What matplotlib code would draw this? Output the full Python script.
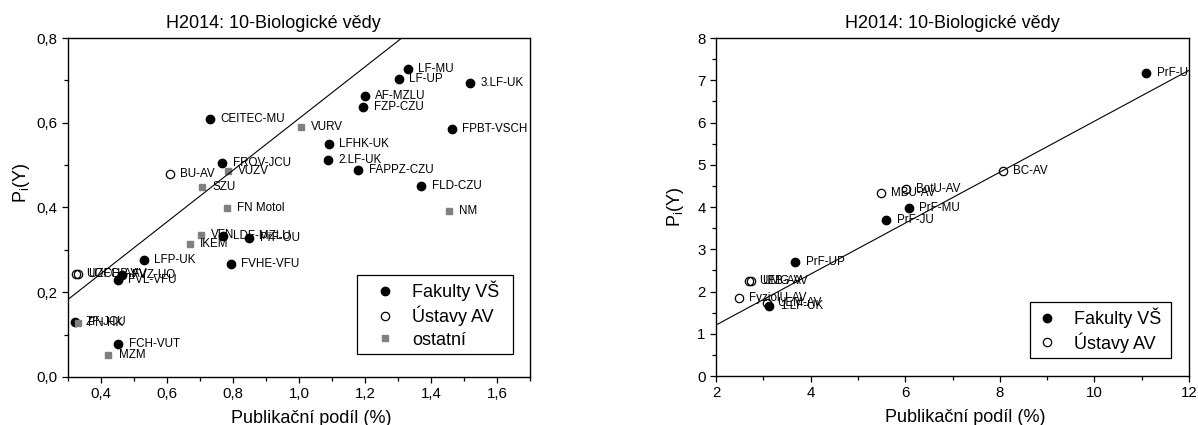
import numpy as np
import matplotlib
matplotlib.use('Agg')
import matplotlib.pyplot as plt
from matplotlib.ticker import MultipleLocator, FuncFormatter
from matplotlib.lines import Line2D

plt.rcParams['font.family'] = ['Liberation Sans', 'DejaVu Sans']
plt.rcParams['mathtext.default'] = 'regular'

titulek = 'H2014: 10-Biologické vědy'
osa_x = 'Publikační podíl (%)'
osa_y = 'P$_i$(Y)'

# levy graf - mensi pracoviste
l_fak_jmena = ['CEITEC-MU', 'FROV-JCU', 'LF-MU', 'LF-UP', '3.LF-UK', 'AF-MZLU', 'FZP-CZU',
               'FPBT-VSCH', 'LFHK-UK', '2.LF-UK', 'FAPPZ-CZU', 'FLD-CZU', 'LDF-MZLU', 'PřF-OU',
               'LFP-UK', 'FVHE-VFU', 'FVL-VFU', 'FVZ-UO', 'ZF-JCU', 'FCH-VUT']
l_fak_x = [0.729, 0.768, 1.330, 1.302, 1.519, 1.200, 1.195, 1.463, 1.090, 1.087, 1.180, 1.371,
           0.769, 0.849, 0.530, 0.793, 0.451, 0.463, 0.322, 0.452]
l_fak_y = [0.608, 0.504, 0.726, 0.703, 0.693, 0.664, 0.636, 0.586, 0.551, 0.512, 0.488, 0.451,
           0.333, 0.329, 0.276, 0.266, 0.230, 0.241, 0.130, 0.078]

l_av_jmena = ['BU-AV', 'UOCHB-AV', 'UZFG-AV']
l_av_x = [0.608, 0.324, 0.330]
l_av_y = [0.478, 0.244, 0.244]

l_ost_jmena = ['VURV', 'VUZV', 'SZU', 'FN Motol', 'NM', 'VFN', 'IKEM', 'FN HK', 'MZM']
l_ost_x = [1.005, 0.784, 0.705, 0.781, 1.454, 0.702, 0.669, 0.329, 0.422]
l_ost_y = [0.589, 0.485, 0.449, 0.399, 0.391, 0.336, 0.315, 0.127, 0.052]

l_smernice = 0.61

# pravy graf - velka pracoviste
p_fak_jmena = ['PrF-UK', 'PrF-MU', 'PrF-JU', 'PrF-UP', '1.LF-UK']
p_fak_x = [11.10, 6.07, 5.60, 3.68, 3.13]
p_fak_y = [7.16, 3.98, 3.69, 2.69, 1.66]

p_av_jmena = ['BC-AV', 'BotU-AV', 'MBU-AV', 'UEB-AV', 'UMG-AV', 'FyziolU-AV', 'UEM-AV']
p_av_x = [8.06, 6.01, 5.49, 2.69, 2.75, 2.48, 3.08]
p_av_y = [4.86, 4.42, 4.32, 2.24, 2.24, 1.85, 1.73]

p_smernice = 0.603

seda = '#808080'

fig = plt.figure(figsize=(11.98, 4.25), dpi=100)
ax1 = fig.add_axes([68/1198, 1-377/425, 462/1198, 339/425])
ax2 = fig.add_axes([716/1198, 1-376/425, 473/1198, 338/425])


def popisky(ax, jmena, xs, ys):
    for n, x, y in zip(jmena, xs, ys):
        ax.annotate(n, (x, y), xytext=(7.5, 0), textcoords='offset points',
                    va='center', ha='left', fontsize=8.4, clip_on=True)


def carka(v, pos):
    return ('%.1f' % v).replace('.', ',')


# levy
ax1.plot(l_fak_x, l_fak_y, 'o', color='black', ms=6, ls='')
ax1.plot(l_av_x, l_av_y, 'o', mfc='none', mec='black', mew=0.9, ms=6, ls='')
ax1.plot(l_ost_x, l_ost_y, 's', color=seda, ms=4.5, ls='')
popisky(ax1, l_fak_jmena, l_fak_x, l_fak_y)
popisky(ax1, l_av_jmena, l_av_x, l_av_y)
popisky(ax1, l_ost_jmena, l_ost_x, l_ost_y)
xx = np.array([0.3, 1.7])
ax1.plot(xx, l_smernice * xx, color='black', lw=0.8, zorder=4)
ax1.set_xlim(0.3, 1.7)
ax1.set_ylim(0, 0.8)
ax1.xaxis.set_major_locator(MultipleLocator(0.2))
ax1.xaxis.set_minor_locator(MultipleLocator(0.1))
ax1.yaxis.set_major_locator(MultipleLocator(0.2))
ax1.yaxis.set_minor_locator(MultipleLocator(0.1))
ax1.xaxis.set_major_formatter(FuncFormatter(carka))
ax1.yaxis.set_major_formatter(FuncFormatter(carka))
ax1.set_title(titulek, fontsize=13, x=0.445, pad=7)

h1 = [Line2D([], [], marker='o', color='black', ls='', ms=6),
      Line2D([], [], marker='o', mfc='none', mec='black', mew=0.9, ls='', ms=6),
      Line2D([], [], marker='s', color=seda, ls='', ms=4.5)]
leg1 = ax1.legend(h1, ['Fakulty VŠ', 'Ústavy AV', 'ostatní'], loc='lower left',
                  bbox_to_anchor=(0.6255, 0.068, 0.3377, 0.2), mode='expand',
                  borderaxespad=0, fontsize=13,
                  fancybox=False, framealpha=1, edgecolor='black', labelspacing=0.28,
                  handletextpad=0.25, borderpad=0.3, handlelength=2.5)
leg1.get_frame().set_linewidth(0.9)

# pravy
ax2.plot(p_fak_x, p_fak_y, 'o', color='black', ms=6, ls='')
ax2.plot(p_av_x, p_av_y, 'o', mfc='none', mec='black', mew=0.9, ms=6, ls='')
popisky(ax2, p_fak_jmena, p_fak_x, p_fak_y)
popisky(ax2, p_av_jmena, p_av_x, p_av_y)
xx = np.array([2, 12])
ax2.plot(xx, p_smernice * xx, color='black', lw=0.8, zorder=4)
ax2.set_xlim(2, 12)
ax2.set_ylim(0, 8)
ax2.xaxis.set_major_locator(MultipleLocator(2))
ax2.xaxis.set_minor_locator(MultipleLocator(1))
ax2.yaxis.set_major_locator(MultipleLocator(1))
ax2.yaxis.set_minor_locator(MultipleLocator(0.5))
ax2.set_title(titulek, fontsize=13, pad=7)

h2 = h1[:2]
leg2 = ax2.legend(h2, ['Fakulty VŠ', 'Ústavy AV'], loc='lower left',
                  bbox_to_anchor=(0.664, 0.053, 0.298, 0.2), mode='expand',
                  borderaxespad=0, fontsize=13,
                  fancybox=False, framealpha=1, edgecolor='black', labelspacing=0.22,
                  handletextpad=0.85, borderpad=0.3, handlelength=1.3)
leg2.get_frame().set_linewidth(0.9)

for ax in (ax1, ax2):
    for s in ax.spines.values():
        s.set_linewidth(1.0)
    ax.tick_params(which='both', direction='out', top=False, right=False, width=0.9)
    ax.tick_params(which='major', length=4.5, labelsize=10.8, pad=3)
    ax.tick_params(which='minor', length=3)
    ax.set_xlabel(osa_x, fontsize=13)
    ax.set_ylabel(osa_y, fontsize=13)

ax1.xaxis.set_label_coords(0.526, -0.097)
ax2.xaxis.set_label_coords(0.526, -0.097)
ax1.yaxis.set_label_coords(-0.078, 0.572)
ax2.yaxis.set_label_coords(-0.064, 0.5)

fig.savefig('out.png', dpi=100)
